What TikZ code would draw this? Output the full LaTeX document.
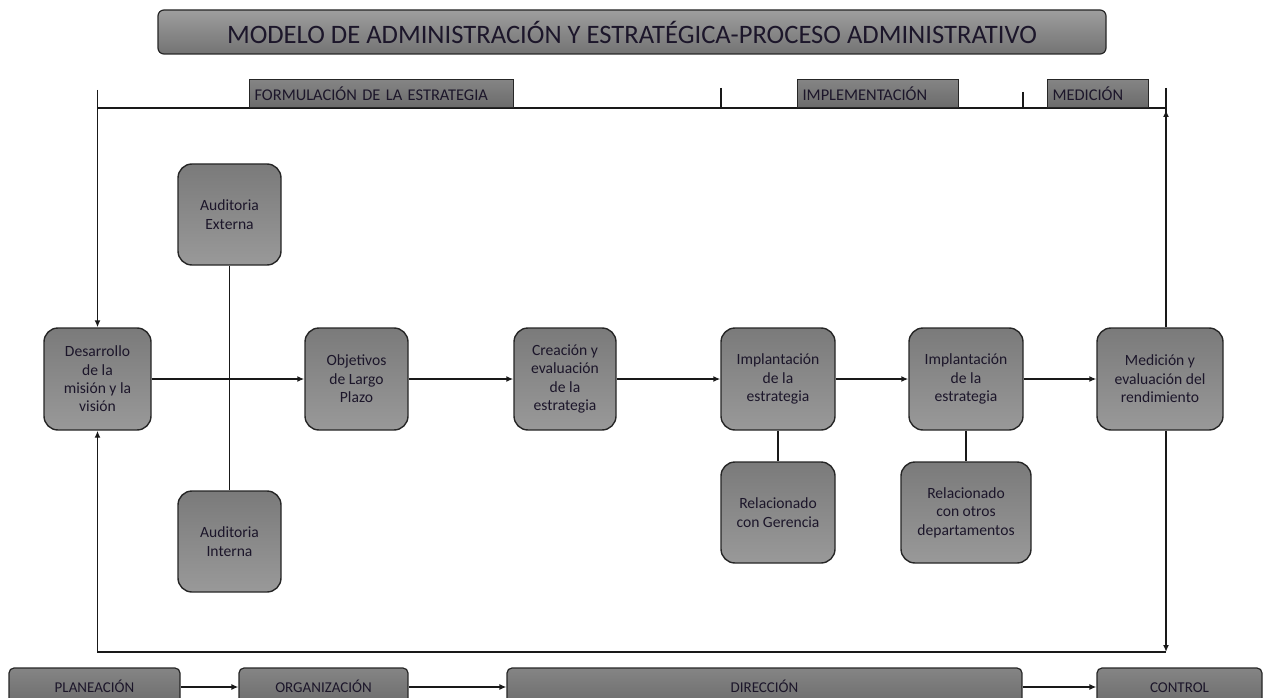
\documentclass[tikz,border=0pt]{standalone}
\usepackage{fontspec}
\setmainfont{Carlito}
\usetikzlibrary{arrows.meta}
\definecolor{txt}{RGB}{28,22,42}
\begin{document}
\begin{tikzpicture}[x=1pt,y=-1pt,
  box/.style={draw=black!85, line width=1.4pt, rounded corners=14pt,
    top color=black!52, bottom color=black!40, align=center,
    font=\fontsize{15.6}{18.4}\selectfont, text=txt, inner sep=2pt},
  hdr/.style={draw=black!85, line width=1.2pt, top color=black!48, bottom color=black!58,
    align=left, font=\fontsize{16.4}{18}\selectfont, text=txt, inner xsep=5pt,
    minimum height=28pt, anchor=south west},
  bot/.style={draw=black!85, line width=1.2pt, rounded corners=5pt,
    top color=black!48, bottom color=black!58, align=center,
    font=\fontsize{15}{17}\selectfont, text=txt, minimum height=38pt,
    text height=10.5pt, text depth=0pt},
  ln/.style={line width=1.4pt, draw=black!90},
  arr/.style={ln, -{Latex[length=7pt,width=6pt]}}]
\clip (0,0) rectangle (1269,698);
\useasboundingbox (0,0) rectangle (1269,698);

% title
\node[draw=black!85, line width=1.2pt, rounded corners=6pt, top color=black!38, bottom color=black!55,
  minimum width=948pt, minimum height=44pt, font=\fontsize{26.6}{30}\selectfont, text=txt]
  (title) at (632,32) {MODELO DE ADMINISTRACIÓN Y ESTRATÉGICA-PROCESO ADMINISTRATIVO};

% header line and ticks
\coordinate (hl) at (97.5,108);
\coordinate (hr) at (1166,108);
\coordinate (tl) at (97.5,90);
\coordinate (tr) at (1166,88);
\coordinate (t1) at (721,88);
\coordinate (t1b) at (721,108);
\coordinate (t2) at (1023,92);
\coordinate (t2b) at (1023,108);
\coordinate (ta) at (1166,110);
\draw[ln] (hl) -- (hr);
\draw[ln] (t1) -- (t1b);
\draw[ln] (t2) -- (t2b);

\node[hdr, text width=254pt] (form) at (249,108) {FORMULACIÓN DE LA ESTRATEGIA};
\node[hdr, text width=151pt] (impl) at (797,108) {IMPLEMENTACIÓN};
\node[hdr, text width=91pt] (medh) at (1047,108) {MEDICIÓN};

% nodes
\node[box, minimum width=107pt, minimum height=102pt] (des) at (97.5,379) {Desarrollo\\de la\\misión y la\\visión};
\node[box, minimum width=103pt, minimum height=101pt] (ext) at (229.5,214.5) {Auditoria\\Externa};
\node[box, minimum width=103pt, minimum height=101pt] (int) at (229.5,541.5) {Auditoria\\Interna};
\node[box, minimum width=103pt, minimum height=102pt] (obj) at (356.5,379) {Objetivos\\de Largo\\Plazo};
\node[box, minimum width=102pt, minimum height=102pt] (cre) at (565,379) {Creación y\\evaluación\\de la\\estrategia};
\node[box, minimum width=114pt, minimum height=102pt] (imp1) at (778,379) {Implantación\\de la\\estrategia};
\node[box, minimum width=114pt, minimum height=102pt] (imp2) at (966,379) {Implantación\\de la\\estrategia};
\node[box, minimum width=126pt, minimum height=102pt] (med) at (1160,379) {Medición y\\evaluación del\\rendimiento};
\node[box, minimum width=114pt, minimum height=101pt] (rel1) at (778,512.5) {Relacionado\\con Gerencia};
\node[box, minimum width=130pt, minimum height=101pt] (rel2) at (966,512.5) {Relacionado\\con otros\\departamentos};

% connectors
\draw[arr] (tl) -- (des.north);
\draw[ln] (tr) -- (med.north -| tr);
\draw[arr] (med.north -| tr) -- (ta);
\draw[ln] (ext.south) -- (int.north);
\draw[arr] (des.east) -- (obj.west);
\draw[arr] (obj.east) -- (cre.west);
\draw[arr] (cre.east) -- (imp1.west);
\draw[arr] (imp1.east) -- (imp2.west);
\draw[arr] (imp2.east) -- (med.west);
\draw[ln] (imp1.south) -- (rel1.north);
\draw[ln] (imp2.south) -- (rel2.north);

\coordinate (br) at (1166,652);
\coordinate (bl) at (97.5,652);
\draw[arr] (med.south -| br) -- (br);
\draw[arr] (br) -- (bl) -- (des.south);

% bottom row
\node[bot, minimum width=171pt] (pla) at (94.5,687) {PLANEACIÓN};
\node[bot, minimum width=169pt] (org) at (323.5,687) {ORGANIZACIÓN};
\node[bot, minimum width=515pt] (dir) at (764.5,687) {DIRECCIÓN};
\node[bot, minimum width=165pt] (con) at (1179.5,687) {CONTROL};
\draw[arr] (pla.east) -- (org.west);
\draw[arr] (org.east) -- (dir.west);
\draw[arr] (dir.east) -- (con.west);
\end{tikzpicture}
\end{document}
